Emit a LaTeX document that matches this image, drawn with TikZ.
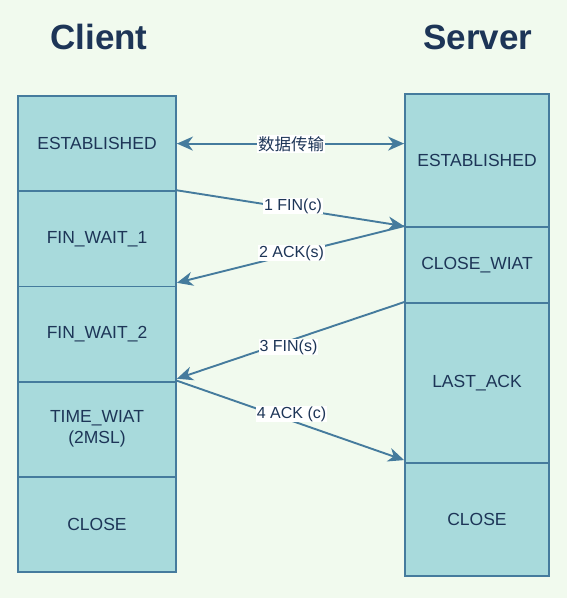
\documentclass[tikz,border=0pt]{standalone}
\usepackage{fontspec}
\setmainfont{Liberation Sans}
\newfontfamily\cjk{Noto Sans CJK SC}
\usetikzlibrary{arrows.meta,calc}
\definecolor{bgc}{HTML}{F1FAEE}
\definecolor{boxfill}{HTML}{A8DADC}
\definecolor{boxline}{HTML}{457B9D}
\definecolor{txt}{HTML}{1D3557}
\begin{document}
\begin{tikzpicture}[x=1pt,y=-1pt,
  statebox/.style={draw=boxline,fill=boxfill,line width=1.8pt,inner sep=0pt,text=txt,font=\fontsize{17.5}{21}\selectfont,align=center},
  cbox/.style={statebox,minimum width=158pt,minimum height=95.2pt},
  tip/.tip={Stealth[length=16pt,width=14pt,inset=5pt]},
  msg/.style={draw=boxline,line width=1.9pt,-tip},
  lbl/.style={fill=white,inner sep=1pt,text=txt,font=\fontsize{16}{18}\selectfont},
  title/.style={text=txt,font=\fontsize{35}{40}\selectfont\bfseries}]
\fill[bgc] (0,0) rectangle (567,598);
\useasboundingbox (0,0) rectangle (567,598);
\node[title] (tc) at (99,37) {Client};
\node[title] (ts) at (478,37) {Server};
% client
\node[cbox] (c1) at (97,143.6) {ESTABLISHED};
\node[cbox] (c2) at (97,238.8) {FIN\_WAIT\_1};
\node[cbox] (c3) at (97,334) {FIN\_WAIT\_2};
\node[cbox] (c4) at (97,429.2) {\strut TIME\_WIAT\\\strut(2MSL)};
\node[cbox] (c5) at (97,524.4) {CLOSE};
% server
\node[statebox,minimum width=144pt,minimum height=133pt] (s1) at (477,160.5) {ESTABLISHED};
\node[statebox,minimum width=144pt,minimum height=76pt] (s2) at (477,265) {CLOSE\_WIAT};
\node[statebox,minimum width=144pt,minimum height=160pt] (s3) at (477,383) {LAST\_ACK};
\node[statebox,minimum width=144pt,minimum height=113pt] (s4) at (477,519.5) {CLOSE};
% connectors
\coordinate (a2end) at ($(c2.south east)+(0,-4.5)$);
\coordinate (a3end) at ($(c4.north east)+(0,-2)$);
\coordinate (a4end) at ($(s4.north west)+(0,-2)$);
\draw[msg,tip-tip] (c1.east) -- (c1.east -| s1.west);
\draw[msg] (c2.north east) -- (s2.north west);
\draw[msg] (s2.north west) -- (a2end);
\draw[msg] (s3.north west) -- (a3end);
\draw[msg] (c4.north east) -- (a4end);
% labels
\node[lbl,font=\fontsize{16.5}{19}\cjk] (l0) at (291,144) {数据传输};
\node[lbl] (l1) at (293,206) {1 FIN(c)};
\node[lbl] (l2) at (291.5,253) {2 ACK(s)};
\node[lbl] (l3) at (288.5,347) {3 FIN(s)};
\node[lbl] (l4) at (291.5,414) {4 ACK (c)};
\end{tikzpicture}
\end{document}
